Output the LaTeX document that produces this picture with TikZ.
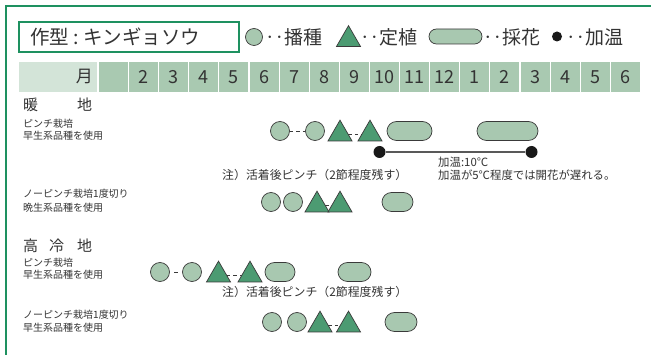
\documentclass[tikz,border=0pt]{standalone}
\usepackage{fontspec}
\setmainfont{Noto Sans CJK JP}
\usetikzlibrary{shapes.geometric}
\definecolor{frameg}{HTML}{1E9160}
\definecolor{cellg}{HTML}{A9C9B1}
\definecolor{celll}{HTML}{D3E4D8}
\definecolor{fillc}{HTML}{A8C8B0}
\definecolor{trig}{HTML}{4C9B72}
\definecolor{ink}{HTML}{333333}
\definecolor{edge}{HTML}{3A3A3A}
\tikzset{
 sow/.style={circle, draw=edge, fill=fillc, line width=0.7pt, minimum size=19pt, inner sep=0pt},
 plant/.style={regular polygon, regular polygon sides=3, draw=edge, fill=trig, line width=0.7pt, minimum size=27.7pt, inner sep=0pt},
 crop/.style={rectangle, draw=edge, fill=fillc, line width=0.7pt, minimum height=19pt, rounded corners=9.5pt, inner sep=0pt},
 heatdot/.style={circle, fill=black!90, minimum size=12pt, inner sep=0pt},
 link/.style={draw=edge, line width=0.7pt, dash pattern=on 3.5pt off 3pt},
 heatline/.style={draw=black!65, line width=1.1pt},
 lbl/.style={anchor=west, inner sep=0pt, text=ink, font=\fontsize{10}{12}\selectfont},
 note/.style={anchor=west, inner sep=0pt, text=ink, font=\fontsize{11.4}{13}\selectfont},
 pinchnote/.style={anchor=west, inner sep=0pt, text=ink, font=\fontsize{11.9}{13}\selectfont},
 region/.style={anchor=west, inner sep=0pt, text=ink, font=\fontsize{15}{17}\selectfont},
 legtext/.style={anchor=west, inner sep=0pt, text=ink, font=\fontsize{19}{21}\selectfont},
 cell/.style={rectangle, fill=cellg, minimum width=29pt, minimum height=30pt, inner sep=0pt, text=ink, font=\fontsize{18}{20}\selectfont},
}
\begin{document}
\begin{tikzpicture}[x=1pt, y=-1pt]
\useasboundingbox (0,0) rectangle (651,355);
\fill[white] (0,0) rectangle (651,355);
% outer frame
\draw[frameg, line width=2pt] (6,356) -- (6,6) -- (652,6);
% title box
\node[draw=frameg, line width=1.5pt, minimum width=220pt, minimum height=30pt, inner sep=0pt] (titlebox) at (129,37) {};
\node[anchor=west, inner sep=0pt, text=ink, font=\fontsize{19.5}{22}\selectfont] (title) at (30,37) {作型\hspace{4pt}:\hspace{5pt}キンギョソウ};
% legend
\node[sow, minimum size=17pt] (lc) at (254,37) {};
\node[legtext] (lct) at (265,37) {‥播種};
\node[plant] (lt) at (348.5,39.5) {};
\node[legtext] (ltt) at (360,37) {‥定植};
\node[crop, minimum width=53pt, minimum height=15pt, rounded corners=7.5pt] (lp) at (455.5,36.5) {};
\node[legtext] (lpt) at (483,37) {‥採花};
\node[heatdot, minimum size=10pt] (ld) at (557,36.5) {};
\node[legtext] (ldt) at (566,37) {‥加温};
% month header
\node[rectangle, fill=celll, minimum width=78pt, minimum height=30pt, inner sep=0pt] (mhead) at (58,77) {};
\node[anchor=east, inner sep=0pt, text=ink, font=\fontsize{17}{19}\selectfont] (mlabel) at (93,77) {月};
\foreach \lab [count=\i from 0] in {{ },2,3,4,5,6,7,8,9,10,11,12,1,2,3,4,5,6}
  \node[cell] (m\i) at ({113.5+30.11*\i},77) {\lab};
% ---------- row 1
\node[region] (r1a) at (23,105) {暖};
\node[region] (r1b) at (77,105) {地};
\node[lbl] (r1l1) at (23,124) {ピンチ栽培};
\node[lbl] (r1l2) at (23,136) {早生系品種を使用};
\node[sow] (a1) at (280,131) {};
\node[sow] (a2) at (315,131) {};
\node[plant] (a3) at (340,134) {};
\node[plant] (a4) at (370,134) {};
\node[crop, minimum width=45pt] (a5) at (409.5,131) {};
\node[crop, minimum width=61pt] (a6) at (507.5,131) {};
\draw[link] (a1) -- (a2);
\draw[link] (a3) -- (a4);
\node[heatdot] (d1) at (379.5,152) {};
\node[heatdot] (d2) at (531.5,152) {};
\draw[heatline] (d1) -- (d2);
\node[note] (h1) at (438,162) {加温:10℃};
\node[note] (h2) at (438,175) {加温が5℃程度では開花が遅れる。};
\node[pinchnote] (n1) at (222,175) {注）活着後ピンチ（2節程度残す）};
% ---------- row 2
\node[lbl] (r2l1) at (23,194) {ノーピンチ栽培1度切り};
\node[lbl] (r2l2) at (23,208) {晩生系品種を使用};
\node[sow] (b1) at (271,202) {};
\node[sow] (b2) at (293,202) {};
\node[plant] (b3) at (317,205) {};
\node[plant] (b4) at (340,205) {};
\draw[link] (b3) -- (b4);
\node[crop, minimum width=31pt] (b5) at (397.5,202) {};
% ---------- row 3
\node[region] (r3a) at (23,246) {高};
\node[region] (r3b) at (49,246) {冷};
\node[region] (r3c) at (77,246) {地};
\node[lbl] (r3l1) at (23,263) {ピンチ栽培};
\node[lbl] (r3l2) at (23,275) {早生系品種を使用};
\node[sow] (c1) at (160,272) {};
\node[sow] (c2) at (192,272) {};
\node[plant] (c3) at (218.5,275) {};
\node[plant] (c4) at (250,275) {};
\node[crop, minimum width=30pt] (c5) at (280,272) {};
\node[crop, minimum width=33pt] (c6) at (354.5,272) {};
\draw[link, dash pattern=on 0pt off 4.5pt on 4pt off 12pt] (c1) -- (c2);
\draw[link] (c3) -- (c4);
\node[pinchnote] (n3) at (222,292) {注）活着後ピンチ（2節程度残す）};
% ---------- row 4
\node[lbl] (r4l1) at (23,315) {ノーピンチ栽培1度切り};
\node[lbl] (r4l2) at (23,328) {早生系品種を使用};
\node[sow] (e1) at (272,322) {};
\node[sow] (e2) at (297,322) {};
\node[plant] (e3) at (320,325) {};
\node[plant] (e4) at (348.5,325) {};
\node[crop, minimum width=32pt] (e5) at (401,322) {};
\draw[link] (e3) -- (e4);
\end{tikzpicture}
\end{document}
